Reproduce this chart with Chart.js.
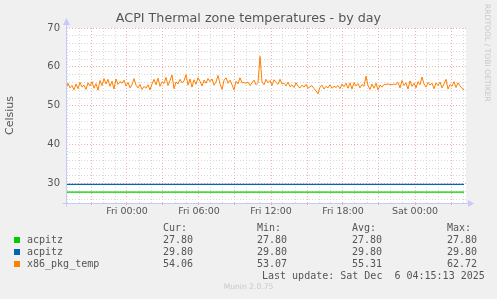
<!DOCTYPE html>
<html>
<head>
<meta charset="utf-8">
<script src="https://cdn.jsdelivr.net/npm/chart.js@4/dist/chart.umd.min.js"></script>
<style>
  body { margin: 0; background: #f0f0f0; }
  #wrap { position: relative; width: 497px; height: 299px; overflow: hidden; }
  #graph { position: absolute; left: 0; top: 0; }
  .t { position: absolute; font-family: 'DejaVu Sans Mono', monospace; font-size: 10px; line-height: 12px; color: #555; white-space: pre; }
  .sq { position: absolute; width: 6px; height: 6px; }
  #title { position: absolute; left: 0; width: 497px; top: 10px; text-align: center; font-family: 'DejaVu Sans', sans-serif; font-size: 12.7px; line-height: 16px; color: #555; }
  #rrd { position: absolute; left: 483px; top: 4px; writing-mode: vertical-rl; font-family: 'DejaVu Sans', sans-serif; font-size: 7.6px; color: #c8c8c8; white-space: nowrap; }
  #munin { position: absolute; left: 0; width: 497px; top: 282px; text-align: center; font-family: 'DejaVu Sans', sans-serif; font-size: 7.6px; color: #c8c8c8; }
</style>
</head>
<body>
<div id="wrap">
  <canvas id="graph" width="497" height="299"></canvas>
  <div id="title"></div>
  <div id="rrd">RRDTOOL / TOBI OETIKER</div>
  <div id="munin">Munin 2.0.75</div>
</div>
<script>
// данные
const titleText = 'ACPI Thermal zone temperatures - by day';
const yTitle = 'Celsius';
const yTickLabels = [30, 40, 50, 60, 70];
const xLabelHours = [0, 6, 12, 18, 24];
const xLabels = ['Fri 00:00', 'Fri 06:00', 'Fri 12:00', 'Fri 18:00', 'Sat 00:00'];

// часы от Fri 00:00, шаг 10 минут
const startHour = -5 - 5 / 60;
const stepHour = 10 / 60;

const seriesNames = ['acpitz', 'acpitz', 'x86_pkg_temp'];
const seriesColors = ['#00cc00', '#0066b3', '#ff8000'];
const curVals = ['27.80', '29.80', '54.06'];
const minVals = ['27.80', '29.80', '53.07'];
const avgVals = ['27.80', '29.80', '55.31'];
const maxVals = ['27.80', '29.80', '62.72'];
const lastUpdate = 'Last update: Sat Dec  6 04:15:13 2025';

const acpitz1 = [27.8, 27.8];
const acpitz2 = [29.8, 29.8];
const pkgTemp = [
  54.3, 55.8, 54.6, 55.2, 54.1, 55.6, 54.4, 56.0, 54.8, 55.3, 54.2, 55.9, 55.1, 56.2, 54.5, 55.7, 54.0,
  56.5, 55.2, 57.0, 55.6, 56.8, 55.0, 56.3, 54.3, 56.9, 55.5, 56.2, 55.8, 56.6, 55.1, 56.0, 54.6, 55.4,
  57.0, 55.3, 54.6, 55.5, 54.2, 55.0, 54.5, 55.4, 54.1, 55.6,
  56.8, 55.4, 57.1, 55.0, 56.2, 55.7, 57.3, 55.2, 56.5, 57.9, 54.4, 56.1, 55.6, 56.8,
  55.9, 56.4, 58.0, 55.3, 56.9, 54.8, 56.7, 55.5, 57.2, 56.3, 55.1, 56.6, 55.8,
  57.0, 56.2, 56.9, 55.3, 56.1, 57.8, 55.7, 54.2, 56.5, 57.2, 55.8, 56.6, 55.4, 54.1, 56.3, 55.6, 57.2,
  55.9, 56.0, 55.8, 56.1, 55.2, 55.9, 56.6, 55.4, 56.0,
  62.72,
  56.2, 55.4, 56.8, 55.9, 56.5, 55.2, 56.7, 56.0, 55.5, 56.8, 55.6,
  55.8, 55.1, 56.1, 54.9, 55.4, 54.7, 55.9, 55.0, 54.6, 55.3, 54.8, 55.5, 54.5, 54.9, 55.2, 54.4, 53.9,
  53.07,
  54.8, 55.3, 54.3, 55.0, 54.6, 55.4, 54.5, 55.0, 54.7, 55.2, 54.4, 55.6, 54.9, 55.8, 54.5,
  55.9, 54.3, 56.0, 55.1, 55.7, 54.6, 55.5, 55.0, 57.6, 55.2,
  54.2, 55.6, 54.5, 55.8, 54.1, 55.3, 54.8,
  55.5, 55.5, 55.6, 55.5, 55.4, 55.6, 55.5,
  56.0, 54.6, 56.5, 55.2, 55.9, 54.3, 56.4, 55.0, 55.8, 54.6, 56.2, 55.4, 57.4, 55.6, 54.8, 56.0, 55.3,
  55.8, 54.4, 55.9, 55.2, 56.1, 54.6, 55.6, 56.8, 54.3, 55.5, 55.0, 56.2, 54.7, 55.9, 55.1, 54.5, 54.06
];

const endHour = startHour + (pkgTemp.length - 1) * stepHour;
const xMin = startHour;
const xMax = startHour + 400 / 12;
const yMin = 25, yMax = 70;

const gridGray = '#d8d8d8';
const gridRed = 'rgba(235, 120, 120, 0.6)';
const axisColor = 'rgb(200, 200, 250)';

function toPoints(arr, t0, step) {
  return arr.map(function (v, i) { return { x: t0 + i * step, y: v }; });
}

document.getElementById('title').textContent = titleText;

// фон и стрелки осей
const munPlugin = {
  id: 'munin',
  beforeDraw: function (chart) {
    const a = chart.chartArea, c = chart.ctx;
    c.save();
    c.fillStyle = '#ffffff';
    c.fillRect(a.left, a.top, a.right - a.left, a.bottom - a.top);
    c.restore();
  },
  afterDatasetsDraw: function (chart) {
    const a = chart.chartArea, c = chart.ctx;
    const x0 = Math.round(a.left) + 0.5, y0 = Math.round(a.bottom) + 0.5;
    c.save();
    c.strokeStyle = axisColor;
    c.fillStyle = axisColor;
    c.lineWidth = 1;
    c.beginPath();
    c.moveTo(x0, y0 + 3); c.lineTo(x0, a.top - 6);
    c.moveTo(x0 - 4, y0); c.lineTo(a.right + 4, y0);
    c.stroke();
    c.beginPath();
    c.moveTo(x0 - 3.5, a.top - 3); c.lineTo(x0 + 3.5, a.top - 3); c.lineTo(x0, a.top - 10); c.closePath();
    c.fill();
    c.beginPath();
    c.moveTo(a.right + 2, y0 - 3.5); c.lineTo(a.right + 2, y0 + 3.5); c.lineTo(a.right + 8, y0); c.closePath();
    c.fill();
    c.restore();
  }
};

const chart = new Chart(document.getElementById('graph'), {
  type: 'line',
  data: {
    datasets: [
      { label: seriesNames[0], data: toPoints(acpitz1, startHour, endHour - startHour), borderColor: seriesColors[0], borderWidth: 1.3 },
      { label: seriesNames[1], data: toPoints(acpitz2, startHour, endHour - startHour), borderColor: seriesColors[1], borderWidth: 1.3 },
      { label: seriesNames[2], data: toPoints(pkgTemp, startHour, stepHour), borderColor: seriesColors[2], borderWidth: 1 }
    ]
  },
  options: {
    responsive: false,
    animation: false,
    events: [],
    layout: { padding: { left: 0, top: 28, right: 31, bottom: 0 } },
    elements: { point: { radius: 0 }, line: { tension: 0 } },
    plugins: {
      legend: { display: false },
      tooltip: { enabled: false },
      title: { display: false }
    },
    scales: {
      x: {
        type: 'linear',
        min: xMin,
        max: xMax,
        afterBuildTicks: function (scale) {
          const t = [];
          for (let h = Math.ceil(xMin); h <= Math.floor(xMax); h++) t.push({ value: h });
          scale.ticks = t;
        },
        afterFit: function (scale) { scale.height = 96; },
        grid: {
          color: function (ctx) { return ctx.tick && ctx.tick.value % 3 === 0 ? gridRed : gridGray; },
          tickColor: function (ctx) { return ctx.tick && ctx.tick.value % 3 === 0 ? gridRed : 'rgba(0,0,0,0)'; },
          tickLength: 2,
          lineWidth: 1
        },
        border: { display: false, dash: [1, 2] },
        ticks: {
          autoSkip: false,
          maxRotation: 0,
          padding: 1,
          color: '#555',
          font: { family: 'DejaVu Sans', size: 9.5 },
          callback: function (v) {
            const k = xLabelHours.indexOf(v);
            return k >= 0 ? xLabels[k] : '';
          }
        }
      },
      y: {
        type: 'linear',
        min: yMin,
        max: yMax,
        afterBuildTicks: function (scale) {
          const t = [];
          for (let v = yMin + 1; v <= yMax; v += 2) t.push({ value: v });
          scale.ticks = t;
        },
        afterFit: function (scale) { scale.width = 66; },
        grid: {
          color: function (ctx) { return ctx.tick && ctx.tick.value % 10 === 0 ? gridRed : gridGray; },
          drawTicks: false,
          lineWidth: 1
        },
        border: { display: false, dash: [1, 2] },
        title: {
          display: true,
          text: yTitle,
          color: '#555',
          font: { family: 'DejaVu Sans', size: 11, weight: 'normal' },
          padding: { top: 3.5, bottom: 0 }
        },
        ticks: {
          autoSkip: false,
          padding: 6,
          color: '#555',
          font: { family: 'DejaVu Sans', size: 10 },
          callback: function (v) { return yTickLabels.indexOf(v) >= 0 ? String(v) : ''; }
        }
      }
    }
  },
  plugins: [munPlugin]
});

// таблица легенды под графиком
(function () {
  const wrap = document.getElementById('wrap');
  function addText(txt, x, yc) {
    const d = document.createElement('div');
    d.className = 't';
    d.textContent = txt;
    d.style.left = x + 'px';
    d.style.top = (yc - 6) + 'px';
    wrap.appendChild(d);
  }
  const colX = [163, 257, 352, 447];
  const heads = ['Cur:', 'Min:', 'Avg:', 'Max:'];
  heads.forEach(function (h, i) { addText(h, colX[i], 228); });
  seriesNames.forEach(function (name, i) {
    const yc = 240 + i * 12;
    const sq = document.createElement('div');
    sq.className = 'sq';
    sq.style.left = '14px';
    sq.style.top = (yc - 3) + 'px';
    sq.style.background = seriesColors[i];
    wrap.appendChild(sq);
    addText(name, 27, yc);
    addText(curVals[i], colX[0], yc);
    addText(minVals[i], colX[1], yc);
    addText(avgVals[i], colX[2], yc);
    addText(maxVals[i], colX[3], yc);
  });
  addText(lastUpdate, 262, 276);
})();
</script>
</body>
</html>
